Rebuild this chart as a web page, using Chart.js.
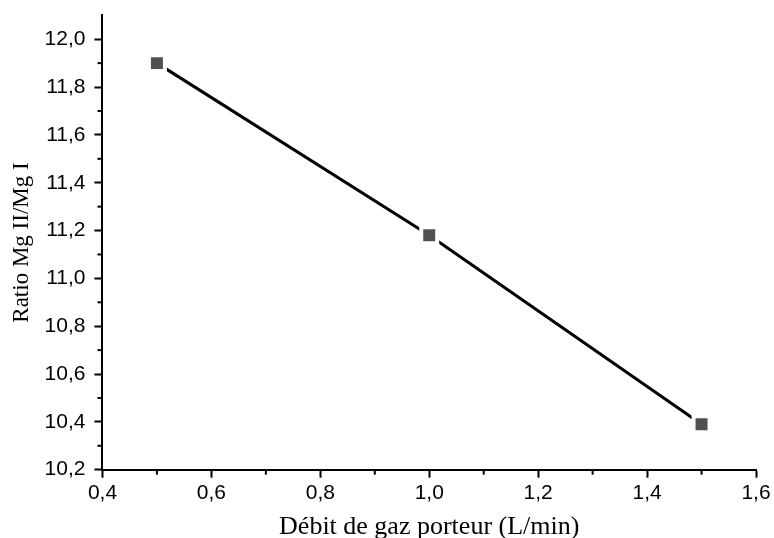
<!DOCTYPE html>
<html>
<head>
<meta charset="utf-8">
<script src="https://cdn.jsdelivr.net/npm/chart.js@4"></script>
<style>
  html, body { margin: 0; padding: 0; background: #fff; }
  #wrap { width: 774px; height: 538px; }
</style>
</head>
<body>
<div id="wrap"><canvas id="myChart" width="774" height="538"></canvas></div>
<script>
// valeurs
const flowRates = [0.5, 1.0, 1.5];
const ratios = [11.9, 11.18, 10.39];
const xTitle = 'Débit de gaz porteur (L/min)';
const yTitle = 'Ratio Mg II/Mg I';

const ctx = document.getElementById('myChart');

const points = flowRates.map((f, i) => ({ x: f, y: ratios[i] }));

function isMajor(v) {
  return Math.round(v * 10) % 2 === 0;
}

function fmt(v) {
  return v.toFixed(1).replace('.', ',');
}

// petites graduations (minor ticks) entre les grandes
const minorTicks = {
  id: 'minorTicks',
  afterDraw(chart) {
    const c = chart.ctx;
    c.save();
    c.strokeStyle = '#000';
    c.lineWidth = 2;
    const xs = chart.scales.x;
    xs.ticks.forEach((t) => {
      if (isMajor(t.value)) return;
      const px = xs.getPixelForValue(t.value);
      c.beginPath();
      c.moveTo(px, xs.top);
      c.lineTo(px, xs.top + 5);
      c.stroke();
    });
    const ys = chart.scales.y;
    ys.ticks.forEach((t) => {
      if (isMajor(t.value) || Math.abs(t.value - ys.max) < 1e-6) return;
      const py = ys.getPixelForValue(t.value);
      c.beginPath();
      c.moveTo(ys.right, py);
      c.lineTo(ys.right - 5, py);
      c.stroke();
    });
    c.restore();
  },
};

new Chart(ctx, {
  type: 'scatter',
  data: {
    datasets: [
      {
        data: points,
        showLine: true,
        borderColor: '#000',
        borderWidth: 3,
        pointStyle: 'rect',
        pointRadius: 11.3,
        pointBackgroundColor: '#505050',
        pointBorderColor: '#fff',
        pointBorderWidth: 4,
      },
    ],
  },
  options: {
    responsive: false,
    animation: false,
    events: [],
    layout: { padding: { top: 15, right: 18, left: 0, bottom: 0 } },
    plugins: { legend: { display: false }, tooltip: { enabled: false } },
    scales: {
      x: {
        type: 'linear',
        min: 0.4,
        max: 1.6,
        border: { color: '#000', width: 2 },
        grid: {
          drawOnChartArea: false,
          tickLength: 8,
          tickWidth: 2,
          tickColor: (c) => (isMajor(c.tick.value) ? '#000' : 'rgba(0,0,0,0)'),
        },
        ticks: {
          stepSize: 0.1,
          autoSkip: false,
          maxRotation: 0,
          padding: 3,
          color: '#000',
          font: { family: 'Liberation Sans', size: 21 },
          callback: (v) => (isMajor(v) ? fmt(v) : ''),
        },
        title: {
          display: true,
          text: xTitle,
          color: '#000',
          font: { family: 'Liberation Serif', size: 26, lineHeight: 0.85 },
          padding: { top: 7, bottom: 0 },
        },
      },
      y: {
        type: 'linear',
        min: 10.2,
        max: 12.1,
        afterFit: (scale) => {
          scale.paddingTop = 0;
        },
        border: { color: '#000', width: 2 },
        grid: {
          drawOnChartArea: false,
          tickLength: 8,
          tickWidth: 2,
          tickColor: (c) => (isMajor(c.tick.value) ? '#000' : 'rgba(0,0,0,0)'),
        },
        ticks: {
          stepSize: 0.1,
          autoSkip: false,
          padding: 9,
          color: '#000',
          font: { family: 'Liberation Sans', size: 21 },
          callback: (v) => (isMajor(v) ? fmt(v) : ''),
        },
        title: {
          display: true,
          text: yTitle,
          color: '#000',
          font: { family: 'Liberation Serif', size: 23, lineHeight: 1.2 },
          padding: { top: 8, bottom: 0 },
        },
      },
    },
  },
  plugins: [minorTicks],
});
</script>
</body>
</html>
